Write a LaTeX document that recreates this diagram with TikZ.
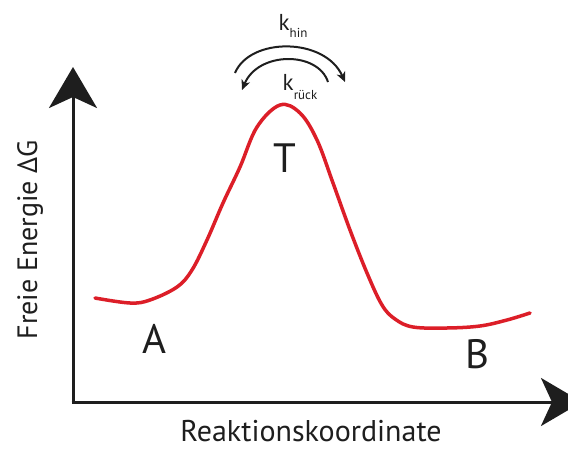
\documentclass[tikz,border=0pt]{standalone}
\usepackage{fontspec}
\setmainfont{PT Sans}
\usetikzlibrary{arrows.meta}
\definecolor{curvered}{RGB}{220,30,40}
\definecolor{axisblack}{RGB}{30,30,30}
\begin{document}
\begin{tikzpicture}[x=1pt,y=-1pt,
  axis/.style={line width=3pt, draw=axisblack, -{Stealth[length=41pt,width=48pt,inset=11pt]}},
  rate/.style={line width=2pt, draw=axisblack, -{Stealth[length=10pt,width=9pt,inset=3pt]}},
  biglabel/.style={font=\fontsize{41}{41}\selectfont, text=axisblack, inner sep=0pt, anchor=base},
  axislabel/.style={font=\fontsize{28}{28}\selectfont, text=axisblack, inner sep=0pt, anchor=base},
  ratelabel/.style={text=axisblack, inner sep=0pt, anchor=base}]
\useasboundingbox (0,0) rectangle (568,450);
\coordinate (origin) at (73,402);
\coordinate (ytip) at (73,67);
\coordinate (xtip) at (582,402);
\draw[axis] (73,403.5) -- (ytip);
\draw[axis] (71.5,402) -- (xtip);
\draw[curvered, line width=3.5pt, line cap=round] plot[smooth, tension=0.6] coordinates {
 (95,298) (130,303) (150,300) (177,287) (192,270) (207,240) (223,203) (240,167)
 (257,127) (280,105) (300,113) (317,140) (333,183) (350,230) (367,273) (382,305)
 (395,319) (413,327) (447,328) (480,326) (507,320) (530,313)};
\node[biglabel] (A) at (154,353) {A};
\node[biglabel] (T) at (285,172) {T};
\node[biglabel] (B) at (477,368) {B};
\node[axislabel, font=\fontsize{30}{30}\selectfont] (xl) at (311,441) {Reaktionskoordinate};
\node[axislabel, rotate=90] (yl) at (37,240) {Freie Energie ΔG};
\node[ratelabel] (khin) at (293,30) {\fontsize{23}{23}\selectfont k\raisebox{-7pt}{\fontsize{13}{13}\selectfont hin}};
\node[ratelabel] (krueck) at (300,90) {\fontsize{23}{23}\selectfont k\raisebox{-9pt}{\fontsize{13}{13}\selectfont rück}};
\coordinate (h1) at (235,73);
\coordinate (h2) at (345,82);
\coordinate (r1) at (328,82);
\coordinate (r2) at (242,90);
\draw[rate] (h1) .. controls (250,37) and (325,37) .. (h2);
\draw[rate] (r1) .. controls (318,51) and (258,51) .. (r2);
\end{tikzpicture}
\end{document}
